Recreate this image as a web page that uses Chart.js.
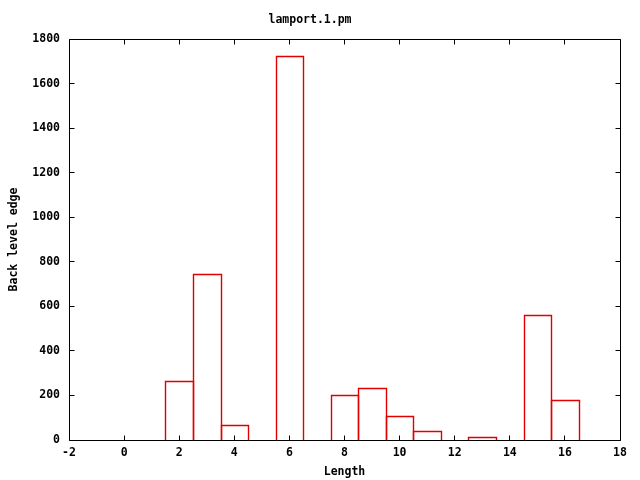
<!DOCTYPE html>
<html>
<head>
<meta charset="utf-8">
<script src="https://cdn.jsdelivr.net/npm/chart.js@4"></script>
<style>
html,body{margin:0;padding:0;background:#fff;}
canvas{display:block;}
</style>
</head>
<body>
<canvas id="c" width="640" height="480"></canvas>
<script>
const chartTitle = "lamport.1.pm";
const xTitle = "Length";
const yTitle = "Back level edge";
const lengths = [2, 3, 4, 6, 8, 9, 10, 11, 13, 15, 16];
const counts = [263, 744, 67, 1725, 202, 232, 106, 40, 12, 560, 180];
const xRange = [-2, 18, 2];
const yRange = [0, 1800, 200];

const FONT = {family: "'DejaVu Sans Mono', monospace", size: 11.5, weight: 'bold', lineHeight: '13px'};
const TICK = 5;
const BAR_COLOR = '#e00000';

// Outlines for the library-positioned bar elements (shared edges coincide)
const outlinePlugin = {
  id: 'barOutline',
  afterDatasetsDraw(chart) {
    const ctx = chart.ctx;
    const meta = chart.getDatasetMeta(0);
    ctx.save();
    ctx.strokeStyle = BAR_COLOR;
    ctx.lineWidth = 1.4;
    ctx.lineJoin = 'miter';
    meta.data.forEach(el => {
      const p = el.getProps(['x', 'y', 'base', 'width'], true);
      const l = Math.round(p.x - p.width / 2) + 0.5;
      const r = Math.round(p.x + p.width / 2) + 0.5;
      const t = Math.round(p.y) + 0.5;
      const b = Math.round(p.base);
      ctx.beginPath();
      ctx.moveTo(l, b); ctx.lineTo(l, t); ctx.lineTo(r, t); ctx.lineTo(r, b);
      ctx.stroke();
    });
    ctx.restore();
  }
};

const framePlugin = {
  id: 'frame',
  afterDatasetsDraw(chart) {
    const ctx = chart.ctx;
    const a = chart.chartArea;
    const xs = chart.scales.x, ys = chart.scales.y;
    const L = Math.floor(a.left) + 0.5, R = Math.floor(a.right) + 0.5;
    const T = Math.floor(a.top) + 0.5, B = Math.floor(a.bottom) + 0.5;
    ctx.save();
    ctx.strokeStyle = '#000';
    ctx.lineWidth = 1;
    ctx.beginPath();
    ctx.rect(L, T, R - L, B - T);
    xs.ticks.forEach(t => {
      const px = Math.floor(xs.getPixelForValue(t.value)) + 0.5;
      ctx.moveTo(px, B); ctx.lineTo(px, B - TICK);
      ctx.moveTo(px, T); ctx.lineTo(px, T + TICK);
    });
    ys.ticks.forEach(t => {
      const py = Math.floor(ys.getPixelForValue(t.value)) + 0.5;
      ctx.moveTo(L, py); ctx.lineTo(L + TICK, py);
      ctx.moveTo(R, py); ctx.lineTo(R - TICK, py);
    });
    ctx.stroke();
    ctx.restore();
  }
};

new Chart(document.getElementById('c'), {
  type: 'bar',
  data: {
    datasets: [{
      data: lengths.map((x, i) => ({x: x, y: counts[i]})),
      backgroundColor: 'rgba(0,0,0,0)',
      borderColor: BAR_COLOR,
      borderWidth: 0,
      barPercentage: 1,
      categoryPercentage: 1
    }]
  },
  options: {
    responsive: false,
    animation: false,
    devicePixelRatio: 1,
    layout: {padding: {left: 0, right: 20, top: 0, bottom: 0}},
    plugins: {
      legend: {display: false},
      tooltip: {enabled: false},
      title: {display: true, text: chartTitle, color: '#000', font: FONT, padding: {top: 14, bottom: 12}}
    },
    scales: {
      x: {
        type: 'linear',
        min: xRange[0], max: xRange[1],
        offset: false,
        grid: {display: false, drawTicks: false},
        border: {display: false},
        ticks: {stepSize: xRange[2], color: '#000', font: FONT, padding: 7, maxRotation: 0,
                callback: v => String(v)},
        title: {display: true, text: xTitle, color: '#000', font: FONT, padding: {top: 0, bottom: 1}},
        afterFit(s) { s.height = 40; }
      },
      y: {
        min: yRange[0], max: yRange[1],
        grid: {display: false, drawTicks: false},
        border: {display: false},
        ticks: {stepSize: yRange[2], color: '#000', font: FONT, padding: 9,
                callback: v => String(v)},
        title: {display: true, text: yTitle, color: '#000', font: FONT, padding: {top: 8, bottom: 0}},
        afterFit(s) { s.width = 69; }
      }
    }
  },
  plugins: [outlinePlugin, framePlugin]
});
</script>
</body>
</html>
